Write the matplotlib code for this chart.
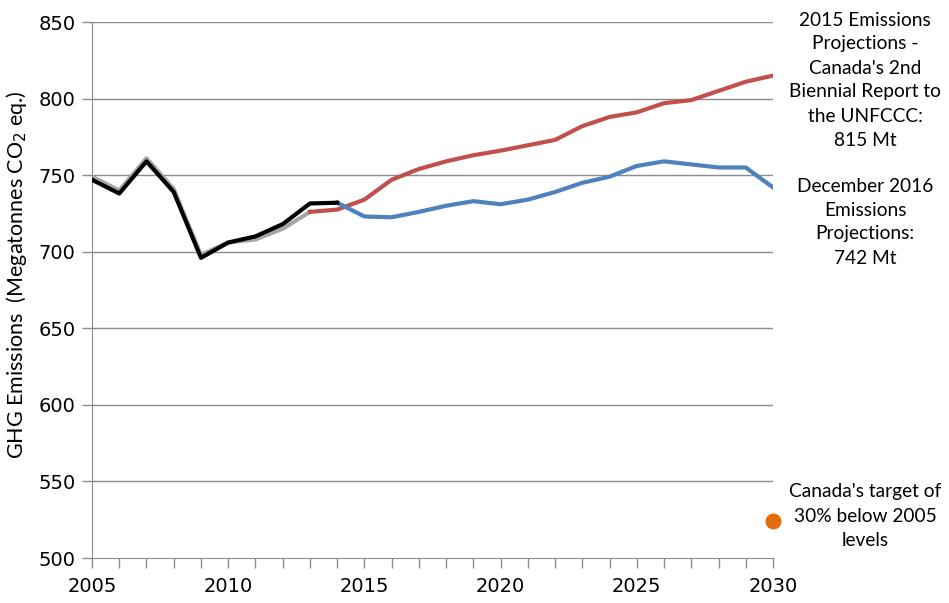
import numpy as np
import matplotlib.pyplot as plt

# historical inventories (older = grey, latest = black)
years_hist_old = list(range(2005, 2014))
hist_old = [749, 740, 761, 741, 698, 706, 708, 715, 726]
years_hist = list(range(2005, 2015))
hist_new = [747, 738, 759, 739, 696, 706, 710, 718, 731.5, 732]

# 2015 projections (2nd Biennial Report)
years_br2 = list(range(2013, 2031))
br2 = [726, 727.5, 734, 747, 754, 759, 763, 766, 769.5, 773, 782, 788, 791, 797, 799, 805, 811, 815]

# December 2016 projections
years_dec16 = list(range(2014, 2031))
dec16 = [732, 723, 722.5, 726, 730, 733, 731, 734, 739, 745, 749, 756, 759, 757, 755, 755, 742]

target_year = 2030
target_value = 524

fig = plt.figure(figsize=(9.49, 6.03), dpi=100)
ax = fig.add_axes([92/949, 1-558/603, (773-92)/949, (558-22)/603])

for y in range(550, 851, 50):
    ax.axhline(y, color="#8c8c8c", lw=1, zorder=0)

ax.plot(years_hist_old, hist_old, color="#a6a6a6", lw=3, zorder=2)
ax.plot(years_br2, br2, color="#c0504d", lw=3, zorder=3)
ax.plot(years_dec16, dec16, color="#4f81bd", lw=3, zorder=3)
ax.plot(years_hist, hist_new, color="black", lw=3, zorder=4)
ax.scatter([target_year], [target_value], s=110, color="#e46c0a", zorder=5, clip_on=False)

ax.set_xlim(2005, 2030)
ax.set_ylim(500, 850)
ax.set_xticks(range(2005, 2031, 5))
ax.set_xticks(range(2005, 2031), minor=True)
ax.set_yticks(range(500, 851, 50))
ax.tick_params(axis="both", which="both", direction="out", length=7, color="#8c8c8c",
               labelsize=14, width=1)
ax.tick_params(axis="x", pad=7)
ax.tick_params(axis="y", pad=5)
for lab in ax.get_xticklabels() + ax.get_yticklabels():
    lab.set_family("DejaVu Sans")

for side in ["top", "right"]:
    ax.spines[side].set_visible(False)
ax.spines["left"].set_color("#8c8c8c")
ax.spines["bottom"].set_color("#8c8c8c")

fig.text(17/949, 1-275/603, "GHG Emissions  (Megatonnes CO$_2$ eq.)", rotation=90,
         ha="center", va="center", fontsize=15.5, family="Lato")

fig.text(865/949, 1-80/603, "2015 Emissions\nProjections -\nCanada's 2nd\nBiennial Report to\nthe UNFCCC:\n815 Mt",
         ha="center", va="center", fontsize=13.8, family="Lato", linespacing=1.5)
fig.text(865/949, 1-222/603, "December 2016\nEmissions\nProjections:\n742 Mt",
         ha="center", va="center", fontsize=13.8, family="Lato", linespacing=1.5)
fig.text(865/949, 1-516/603, "Canada's target of\n30% below 2005\nlevels",
         ha="center", va="center", fontsize=13.8, family="Lato", linespacing=1.5)

fig.savefig("out.png", dpi=100)
